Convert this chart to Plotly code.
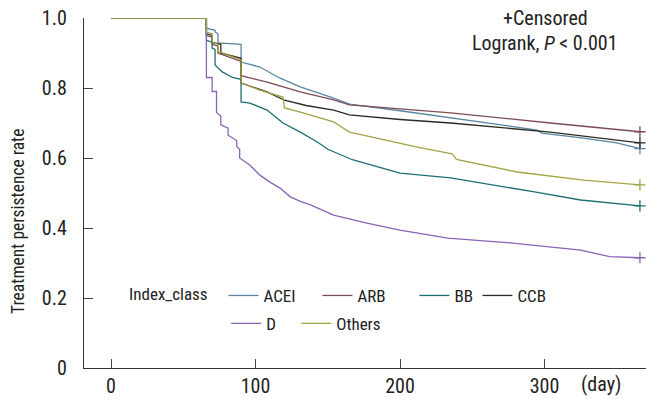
import plotly.graph_objects as go

# ---- data ----
acei_days = [0, 66, 66, 72, 72, 74, 74, 90, 90, 103, 117, 131, 154, 165, 200, 235, 295, 298, 327, 350, 366]
acei_vals = [1, 1, 0.971, 0.965, 0.96, 0.955, 0.929, 0.925, 0.874, 0.86, 0.828, 0.803, 0.771, 0.754, 0.735, 0.714, 0.68, 0.671, 0.657, 0.643, 0.627]

arb_days = [0, 66, 66, 70, 70, 74, 74, 90, 90, 108, 131, 154, 165, 200, 235, 304, 366]
arb_vals = [1, 1, 0.95, 0.945, 0.925, 0.92, 0.9, 0.876, 0.835, 0.817, 0.789, 0.766, 0.752, 0.74, 0.729, 0.70, 0.675]

bb_days = [0, 66, 66, 70, 70, 72, 72, 77, 84, 90, 90, 96, 108, 119, 131, 143, 150, 167, 200, 235, 293, 325, 366]
bb_vals = [1, 1, 0.937, 0.93, 0.914, 0.91, 0.866, 0.846, 0.83, 0.825, 0.76, 0.757, 0.737, 0.70, 0.674, 0.645, 0.625, 0.595, 0.557, 0.543, 0.503, 0.48, 0.463]

ccb_days = [0, 66, 66, 70, 70, 76, 76, 90, 90, 108, 120, 135, 154, 165, 200, 235, 304, 366]
ccb_vals = [1, 1, 0.955, 0.95, 0.93, 0.925, 0.9, 0.885, 0.814, 0.789, 0.765, 0.75, 0.737, 0.723, 0.71, 0.70, 0.674, 0.643]

d_days = [0, 66, 66, 70, 70, 73, 73, 76, 76, 81, 81, 87, 87, 89, 89, 96, 103, 110, 117, 124, 131, 138, 154, 177, 200, 233, 278, 325, 345, 366]
d_vals = [1, 1, 0.83, 0.83, 0.79, 0.79, 0.73, 0.72, 0.695, 0.685, 0.665, 0.65, 0.632, 0.625, 0.60, 0.58, 0.551, 0.531, 0.514, 0.489, 0.476, 0.466, 0.437, 0.414, 0.394, 0.371, 0.357, 0.337, 0.318, 0.315]

oth_days = [0, 66, 66, 70, 70, 74, 74, 90, 90, 103, 119, 120, 131, 154, 165, 212, 236, 239, 281, 327, 366]
oth_vals = [1, 1, 0.96, 0.955, 0.93, 0.925, 0.905, 0.88, 0.815, 0.794, 0.774, 0.743, 0.731, 0.703, 0.674, 0.631, 0.612, 0.596, 0.56, 0.537, 0.523]

names = ["ACEI", "ARB", "BB", "CCB", "D", "Others"]
colors = ["#5a86a3", "#7d4b57", "#1c6e72", "#2b2b22", "#8b63b5", "#a3a347"]
legends = ["legend", "legend", "legend", "legend", "legend2", "legend2"]
legend_widths = [49, 52, 18, 40, 25, 52]
y_ticks = [0, 0.2, 0.4, 0.6, 0.8, 1.0]
y_ticktext = ["0", "0.2", "0.4", "0.6", "0.8", "1.0"]
x_ticks = [0, 100, 200, 300]

series = [(acei_days, acei_vals), (arb_days, arb_vals), (bb_days, bb_vals),
          (ccb_days, ccb_vals), (d_days, d_vals), (oth_days, oth_vals)]

FONT = "Liberation Sans Narrow, Roboto Condensed, Arial Narrow, sans-serif"

fig = go.Figure()
for (dx, dy), nm, col, lg, lw in zip(series, names, colors, legends, legend_widths):
    fig.add_trace(go.Scatter(x=dx, y=dy, mode="lines", name=nm, legend=lg, legendwidth=lw,
                             line=dict(color=col, width=1.3)))
for (dx, dy), nm, col in zip(series, names, colors):
    fig.add_trace(go.Scatter(x=[dx[-1]], y=[dy[-1]], mode="markers", showlegend=False,
                             marker=dict(symbol="cross-thin", size=8, color=col,
                                         line=dict(color=col, width=1.3))))

fig.update_layout(
    width=646, height=399,
    margin=dict(l=84, r=0, t=18, b=31),
    plot_bgcolor="white", paper_bgcolor="white",
    font=dict(family=FONT, size=20, color="#222"),
    legend=dict(orientation="h", x=0.0765, y=0.206, xanchor="left", yanchor="middle",
                title=dict(text="Index_class&nbsp;&nbsp;", font=dict(size=17)), font=dict(size=17),
                bgcolor="rgba(0,0,0,0)"),
    legend2=dict(orientation="h", x=0.253, y=0.126, xanchor="left", yanchor="middle",
                 font=dict(size=17), bgcolor="rgba(0,0,0,0)"),
    xaxis=dict(range=[-18.7, 370.2], tickvals=x_ticks, ticks="inside", ticklen=9,
               tickcolor="#444", showline=True, linecolor="#333", linewidth=1.2,
               showgrid=False, zeroline=False, tickfont=dict(size=20), automargin=False),
    yaxis=dict(range=[0, 1.0], tickvals=y_ticks, ticktext=y_ticktext, ticks="inside",
               ticklen=9, tickcolor="#444", showline=True, linecolor="#333", linewidth=1.2,
               showgrid=False, zeroline=False, tickfont=dict(size=20), automargin=False,
               ticklabelstandoff=12),
    annotations=[
        dict(text="Treatment persistence rate", x=-0.1174, y=0.42, xref="paper", yref="paper",
             showarrow=False, textangle=-90, font=dict(size=17.5), xanchor="center", yanchor="middle"),
        dict(text="+Censored", x=0.821, y=1.0, xref="paper", yref="paper", showarrow=False,
             font=dict(size=20), xanchor="center", yanchor="middle"),
        dict(text="Logrank, <i>P</i> &lt; 0.001", x=0.821, y=0.928, xref="paper", yref="paper",
             showarrow=False, font=dict(size=20), xanchor="center", yanchor="middle"),
        dict(text="(day)", x=0.92, y=-0.006, xref="paper", yref="paper", showarrow=False,
             font=dict(size=20), xanchor="center", yanchor="top"),
    ],
)

fig.write_html("out.html", config={"displayModeBar": False},
               post_script="document.body.style.margin='0px';")
